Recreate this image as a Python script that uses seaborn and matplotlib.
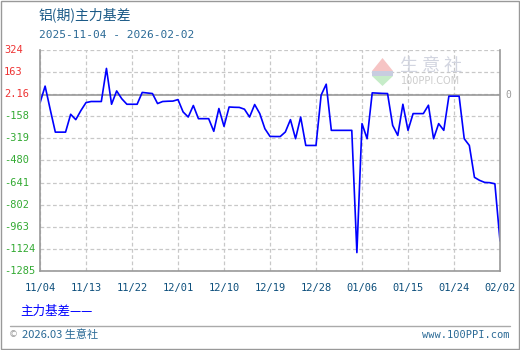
import numpy as np
import pandas as pd
import matplotlib
matplotlib.use("Agg")
import matplotlib.pyplot as plt
import matplotlib.transforms as mtransforms
from matplotlib.patches import Polygon, Rectangle
from matplotlib.lines import Line2D
import seaborn as sns

# ---------------- data ----------------
start_date = "2025-11-04"
end_date = "2026-02-02"
basis = [
    -61, 61, -109, -274, -274, -274, -144, -183, -117, -59,
    -51, -51, -51, 190, -71, 26, -31, -71, -71, -71,
    15, 11, 7, -66, -51, -49, -48, -37, -127, -164,
    -80, -176, -176, -176, -268, -102, -232, -91, -93, -94,
    -107, -164, -73, -139, -249, -305, -306, -306, -273, -183,
    -322, -164, -371, -371, -371, -5, 75, -261, -261, -261,
    -261, -261, -1151, -212, -322, 12, 10, 8, 7, -225,
    -298, -71, -261, -139, -139, -139, -78, -322, -212, -261,
    -12, -12, -12, -322, -371, -603, -625, -640, -642, -650,
    -1066,
]
y_ticks = [324, 163, 2.16, -158, -319, -480, -641, -802, -963, -1124, -1285]
y_tick_labels = ["324", "163", "2.16", "-158", "-319", "-480", "-641", "-802", "-963", "-1124", "-1285"]
x_tick_dates = ["2025-11-04", "2025-11-13", "2025-11-22", "2025-12-01", "2025-12-10", "2025-12-19",
                "2025-12-28", "2026-01-06", "2026-01-15", "2026-01-24", "2026-02-02"]
x_tick_labels = ["11/04", "11/13", "11/22", "12/01", "12/10", "12/19",
                 "12/28", "01/06", "01/15", "01/24", "02/02"]
title = "铝(期)主力基差"
subtitle = "2025-11-04 - 2026-02-02"
series_name = "主力基差"

dates = pd.date_range(start_date, periods=len(basis), freq="D")
df = pd.DataFrame({"date": dates, "value": basis})

# ---------------- style ----------------
sns.set_style("white")
plt.rcParams["font.family"] = ["DejaVu Sans", "Noto Sans CJK SC"]
CJK = ["Noto Sans CJK SC", "DejaVu Sans"]
MONO = ["DejaVu Sans Mono", "Noto Sans CJK SC"]

W, H = 520, 350
fig = plt.figure(figsize=(W / 100, H / 100), dpi=100)
fig.patch.set_facecolor("white")

def fx(px):
    return px / W

def fy(py):
    return 1 - py / H

L, R, T, B = 40, 500, 50, 271
ax = fig.add_axes([fx(L), fy(B), fx(R) - fx(L), fy(T) - fy(B)])
ax.set_facecolor("white")

sns.lineplot(data=df, x="date", y="value", ax=ax, color="#0000ff", linewidth=1.2, legend=False)

ax.set_xlim(pd.Timestamp(start_date), pd.Timestamp(end_date))
ax.set_ylim(min(y_ticks), max(y_ticks))
ax.set_xlabel("")
ax.set_ylabel("")

# grid
ax.set_yticks(y_ticks)
ax.set_yticklabels([])
ax.set_xticks(pd.to_datetime(x_tick_dates))
ax.set_xticklabels(x_tick_labels, fontsize=7.5, color="#0d4f7c", family=MONO)
ax.tick_params(axis="x", length=0, pad=9)
ax.tick_params(axis="y", length=0)
ax.grid(True, color="#c8c8c8", linestyle=(0, (3, 2)), linewidth=0.9)
ax.axhline(0, color="#999999", linewidth=1.2, zorder=1)

for side in ["left", "bottom", "right"]:
    ax.spines[side].set_color("#999999")
    ax.spines[side].set_linewidth(1.2)
ax.spines["top"].set_visible(False)

blend = mtransforms.blended_transform_factory(fig.transFigure, ax.transData)

# y labels, left aligned near the figure edge
for v, lab in zip(y_ticks, y_tick_labels):
    col = "#ee3333" if v > 0 else "#33aa33"
    ax.text(fx(4), v, lab, transform=blend, ha="left", va="center", fontsize=7.5, color=col, family=MONO)

# right "0"
ax.text(fx(505), 0, "0", transform=blend, ha="left", va="center", fontsize=7, color="#999999", family=MONO)

# titles
fig.text(fx(39), fy(15), title, fontsize=10, color="#1b5a87", family=CJK, ha="left", va="center")
fig.text(fx(39), fy(35), subtitle, fontsize=8, color="#2b6a96", family=MONO, ha="left", va="center")

# watermark logo
logo_red = Polygon([[fx(372), fy(71)], [fx(393), fy(71)], [fx(382.5), fy(58)]], closed=True,
                   transform=fig.transFigure, facecolor="#f6c4c4", edgecolor="none", zorder=0.5)
logo_band = Rectangle((fx(372), fy(76)), fx(21), fy(71) - fy(76), transform=fig.transFigure,
                      facecolor="#c8cde0", edgecolor="none", zorder=0.5)
logo_green = Polygon([[fx(372), fy(76)], [fx(393), fy(76)], [fx(382.5), fy(86)]], closed=True,
                     transform=fig.transFigure, facecolor="#c6ecc8", edgecolor="none", zorder=0.5)
for p in (logo_red, logo_band, logo_green):
    fig.patches.append(p)
fig.text(fx(431), fy(66), "生 意 社", fontsize=13, color="#d2d5e0", family=CJK, ha="center", va="center",
         zorder=0.5)
fig.text(fx(431), fy(81), "100PPI.COM", fontsize=7, color="#cccccc", family=["DejaVu Sans"], ha="center",
         va="center", zorder=0.5)

# legend-like label
fig.text(fx(20), fy(311), series_name + "——", fontsize=9, color="#0000ff", family=CJK, ha="left", va="center")

# footer separator and texts
fig.add_artist(Line2D([fx(10), fx(510)], [fy(326), fy(326)], color="#aaaaaa", linewidth=1,
                      transform=fig.transFigure))
fig.text(fx(9), fy(335), "©", fontsize=6.5, color="#999999", family=["DejaVu Sans"], ha="left", va="center")
fig.text(fx(22), fy(335), "2026.03 生意社", fontsize=8, color="#2b6a96", family=CJK, ha="left", va="center")
fig.text(fx(510), fy(335), "www.100PPI.com", fontsize=7.5, color="#2b6a96", family=MONO, ha="right", va="center")

# outer border
fig.add_artist(Rectangle((0.001, 0.002), 0.997, 0.995, transform=fig.transFigure, fill=False,
                         edgecolor="#999999", linewidth=1))

fig.savefig("out.png", dpi=100)
